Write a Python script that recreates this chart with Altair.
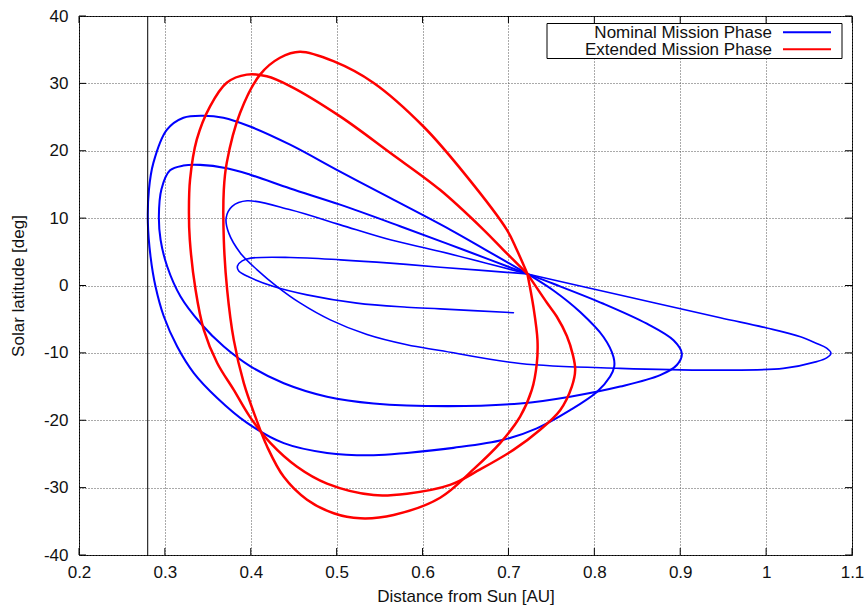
import altair as alt
import pandas as pd

# ---------------- data ----------------
x_ticks = [0.2, 0.3, 0.4, 0.5, 0.6, 0.7, 0.8, 0.9, 1.0, 1.1]
y_ticks = [-40, -30, -20, -10, 0, 10, 20, 30, 40]
sun_limit = [0.28]
series_names = ["Nominal Mission Phase", "Extended Mission Phase"]
series_colors = ["#0000ff", "#ff0000"]

# nominal phase, first (thin) arc: start -> inner turn -> Venus flyby
seg_a_x = [0.7058, 0.6205, 0.5818, 0.5236, 0.4655, 0.4267, 0.3980, 0.3860, 0.3845, 0.3900,
           0.4000, 0.4461, 0.5043, 0.5624, 0.6205, 0.7221]
seg_a_lat = [-4.04, -3.47, -3.22, -2.62, -1.39, -0.15, 1.25, 2.15, 2.9, 3.65,
             4.06, 4.16, 3.81, 3.32, 2.72, 1.72]

# nominal phase, second (thin) orbit
seg_b_x = [0.7221, 0.8400, 0.9466, 1.0007, 1.0400, 1.0589, 1.0705, 1.0755, 1.0705, 1.0589,
           1.0200, 0.9466, 0.8301, 0.7136, 0.6205, 0.5818, 0.5353, 0.4926, 0.4578, 0.4306,
           0.4074, 0.3880, 0.3744, 0.3713, 0.3783, 0.3957, 0.4461, 0.5043, 0.5624, 0.6205, 0.7221]
seg_b_lat = [1.72, -1.70, -4.78, -6.30, -7.60, -8.60, -9.30, -10.05, -10.75, -11.30,
             -12.30, -12.56, -12.30, -11.58, -9.65, -8.80, -7.28, -5.10, -2.62, -0.15,
             2.33, 4.80, 7.77, 10.0, 11.73, 12.57, 11.24, 9.0, 6.78, 5.05, 1.72]

# nominal phase, third (thick) orbit
seg_c_x = [0.7221, 0.7524, 0.8107, 0.8612, 0.8922, 0.9019, 0.8961, 0.8767, 0.8301, 0.7718,
           0.7136, 0.6300, 0.5430, 0.4888, 0.4384, 0.3996, 0.3686, 0.3415, 0.3182, 0.3027,
           0.2950, 0.2930, 0.2960, 0.3060, 0.3216, 0.3410, 0.3720, 0.3992, 0.4459, 0.5040,
           0.5738, 0.6476, 0.7221]
seg_c_lat = [1.72, 0.25, -2.71, -5.67, -8.13, -10.1, -11.8, -13.3, -15.0, -16.5,
             -17.5, -17.9, -17.5, -16.5, -14.5, -12.0, -9.06, -5.6, -1.63, 2.82,
             6.78, 10.25, 14.3, 17.1, 17.8, 17.9, 17.4, 16.45, 14.4, 12.0,
             8.8, 5.3, 1.72]

# nominal phase, fourth (thick) orbit
seg_d_x = [0.7221, 0.7524, 0.7835, 0.8107, 0.8223, 0.8231, 0.8184, 0.8029, 0.7718, 0.7330,
           0.6942, 0.6359, 0.5818, 0.5430, 0.4888, 0.4384, 0.3957, 0.3609, 0.3337, 0.3143,
           0.2988, 0.2891, 0.2833, 0.2802, 0.2814, 0.2866, 0.3022, 0.3216, 0.3448, 0.3681,
           0.3992, 0.4458, 0.5040, 0.5622, 0.6320, 0.6734, 0.7221]
seg_d_lat = [1.72, -0.74, -3.94, -7.64, -10.6, -12.07, -13.5, -15.8, -18.5, -21.2,
             -22.9, -24.1, -24.85, -25.2, -24.85, -23.4, -20.4, -16.7, -13.0, -9.06,
             -4.6, -0.15, 4.3, 9.26, 14.2, 18.2, 23.1, 24.9, 25.2, 24.9,
             23.6, 20.9, 16.9, 13.0, 8.3, 5.3, 1.72]

# extended phase, first orbit
seg_e_x = [0.7221, 0.7450, 0.7562, 0.7680, 0.7750, 0.7777, 0.7738, 0.7602, 0.7369, 0.7058,
           0.6670, 0.6320, 0.5818, 0.5430, 0.4888, 0.4539, 0.4230, 0.3990, 0.3802, 0.3609,
           0.3453, 0.3357, 0.3290, 0.3280, 0.3293, 0.3371, 0.3526, 0.3720, 0.3953, 0.4186,
           0.4457, 0.5040, 0.5622, 0.6203, 0.6708, 0.6940, 0.7221]
seg_e_lat = [1.72, -2.6, -4.6, -7.5, -10.3, -12.5, -15.0, -18.5, -21.4, -24.4,
             -27.3, -29.6, -30.9, -31.1, -29.4, -26.9, -23.4, -19.5, -15.5, -11.5,
             -6.58, -0.64, 6.8, 11.0, 15.7, 21.65, 26.6, 30.1, 31.3, 31.05,
             29.6, 25.1, 19.7, 14.2, 8.3, 5.3, 1.72]

# extended phase, second orbit
seg_f_x = [0.7221, 0.7291, 0.7338, 0.7330, 0.7272, 0.7136, 0.6903, 0.6592, 0.6205, 0.5663,
           0.5275, 0.4965, 0.4655, 0.4384, 0.4190, 0.4054, 0.3919, 0.3802, 0.3725, 0.3686,
           0.3686, 0.3720, 0.3875, 0.4108, 0.4340, 0.4573, 0.4962, 0.5427, 0.6010, 0.6514,
           0.6980, 0.7097, 0.7221]
seg_f_lat = [1.72, -3.2, -8.13, -11.58, -15.5, -19.46, -23.4, -27.3, -31.5, -34.06,
             -34.55, -33.8, -31.8, -28.4, -23.9, -19.5, -14.5, -8.07, -0.64, 6.78,
             14.2, 18.2, 25.6, 31.3, 33.8, 34.7, 33.3, 30.1, 23.6, 16.2,
             8.3, 5.3, 1.72]

segments = [
    ("A", series_names[0], "thin", seg_a_x, seg_a_lat),
    ("B", series_names[0], "thin", seg_b_x, seg_b_lat),
    ("C", series_names[0], "thick", seg_c_x, seg_c_lat),
    ("D", series_names[0], "thick", seg_d_x, seg_d_lat),
    ("E", series_names[1], "red", seg_e_x, seg_e_lat),
    ("F", series_names[1], "red", seg_f_x, seg_f_lat),
]
rows = []
for seg, phase, weight, xs, ys in segments:
    for i, (xv, yv) in enumerate(zip(xs, ys)):
        rows.append({"seg": seg, "idx": i, "phase": phase, "weight": weight, "dist": xv, "lat": yv})
traj = pd.DataFrame(rows)

W, H = 773, 539
FONT = "Liberation Sans"
FS = 17

xscale = alt.Scale(domain=[0.2, 1.1], nice=False, zero=False)
yscale = alt.Scale(domain=[-40, 40], nice=False, zero=False)

xaxis = alt.Axis(values=x_ticks, title="Distance from Sun [AU]", labelExpr="'' + datum.value",
                 grid=True, gridDash=[1, 2], gridColor="#555", gridOpacity=1, gridWidth=1,
                 ticks=False, tickSize=0, domain=False, labelPadding=9, labelFontSize=FS,
                 labelFont=FONT, labelColor="#111", titleFont=FONT, titleFontSize=FS,
                 titleFontWeight="normal", titleColor="#111", titleX=W / 2, titleY=41,
                 titleBaseline="middle", titleAlign="center", labelFlush=False)
yaxis = alt.Axis(values=y_ticks, title="Solar latitude [deg]", labelExpr="'' + datum.value",
                 grid=True, gridDash=[1, 2], gridColor="#555", gridOpacity=1, gridWidth=1,
                 ticks=False, tickSize=0, domain=False, labelPadding=11, labelFontSize=FS,
                 labelFont=FONT, labelColor="#111", titleFont=FONT, titleFontSize=FS,
                 titleFontWeight="normal", titleColor="#111", titleX=-61, titleY=H / 2,
                 titleAngle=-90, titleBaseline="middle", titleAlign="center", labelFlush=False)

X = alt.X("dist:Q", scale=xscale, axis=xaxis)
Y = alt.Y("lat:Q", scale=yscale, axis=yaxis)

lines = alt.Chart(traj).mark_line(interpolate="catmull-rom", strokeCap="round", strokeJoin="round").encode(
    x=X, y=Y,
    detail="seg:N",
    order="idx:Q",
    color=alt.Color("phase:N", scale=alt.Scale(domain=series_names, range=series_colors), legend=None),
    strokeWidth=alt.StrokeWidth("weight:N", scale=alt.Scale(domain=["thin", "thick", "red"],
                                                             range=[1.6, 2.5, 2.2]), legend=None),
)

limit = alt.Chart(pd.DataFrame({"dist": sun_limit})).mark_rule(color="black", strokeWidth=1).encode(x=X)

xt = pd.DataFrame({"dist": x_ticks})
yt = pd.DataFrame({"lat": y_ticks})
tick_bottom = alt.Chart(xt).mark_rule(color="black").encode(x=X, y=alt.value(H), y2=alt.value(H - 7))
tick_top = alt.Chart(xt).mark_rule(color="black").encode(x=X, y=alt.value(0), y2=alt.value(7))
tick_left = alt.Chart(yt).mark_rule(color="black").encode(y=Y, x=alt.value(0), x2=alt.value(7))
tick_right = alt.Chart(yt).mark_rule(color="black").encode(y=Y, x=alt.value(W), x2=alt.value(W - 7))

# legend (gnuplot style: label on the left, line sample on the right)
leg_df = pd.DataFrame({"name": series_names, "color": series_colors})
leg_box = alt.Chart(leg_df.head(1)).mark_rect(fill="white", stroke="black", strokeWidth=1).encode(
    x=alt.value(468), x2=alt.value(763), y=alt.value(7.5), y2=alt.value(42.5))
leg_t1 = alt.Chart(leg_df.iloc[[0]]).mark_text(align="right", baseline="alphabetic", font=FONT,
                                               fontSize=FS, color="#111").encode(
    text="name:N", x=alt.value(693), y=alt.value(21.8))
leg_t2 = alt.Chart(leg_df.iloc[[1]]).mark_text(align="right", baseline="alphabetic", font=FONT,
                                               fontSize=FS, color="#111").encode(
    text="name:N", x=alt.value(693), y=alt.value(39.0))
leg_l1 = alt.Chart(leg_df.iloc[[0]]).mark_rule(color=series_colors[0], strokeWidth=2).encode(
    x=alt.value(704), x2=alt.value(752), y=alt.value(16.3))
leg_l2 = alt.Chart(leg_df.iloc[[1]]).mark_rule(color=series_colors[1], strokeWidth=2).encode(
    x=alt.value(704), x2=alt.value(752), y=alt.value(33.3))

chart = alt.layer(
    lines, limit, tick_bottom, tick_top, tick_left, tick_right,
    leg_box, leg_t1, leg_t2, leg_l1, leg_l2
).properties(
    width=W, height=H,
    padding={"left": 79, "top": 16, "right": 14, "bottom": 56},
    autosize=alt.AutoSizeParams(type="none"),
    background="white",
).configure_view(stroke="black", strokeWidth=1)

chart.save("out.html", embed_options={"renderer": "svg", "actions": False})
